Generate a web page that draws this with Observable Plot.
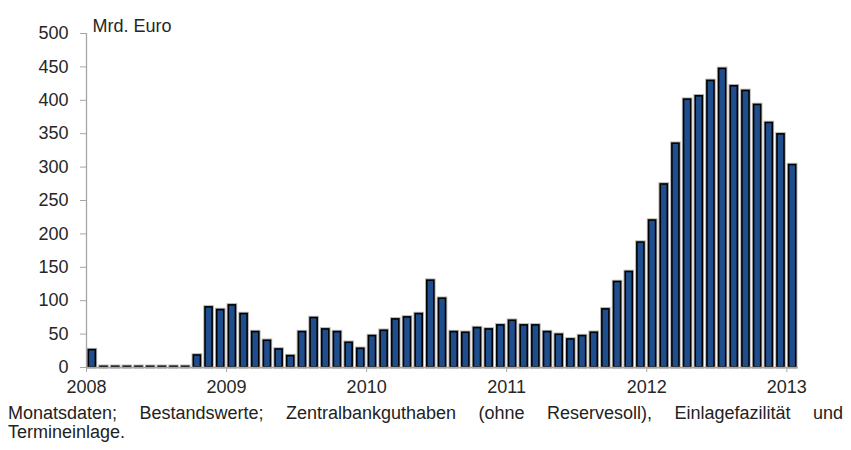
<!DOCTYPE html>
<html>
<head>
<meta charset="utf-8">
<script src="https://cdn.jsdelivr.net/npm/d3@7"></script>
<script src="https://cdn.jsdelivr.net/npm/@observablehq/plot@0.6"></script>
<style>
  html, body { margin: 0; padding: 0; background: #fff; }
  body { width: 851px; font-family: "Liberation Sans", Arial, sans-serif; color: #222; }
  #chart svg { display: block; }
  .cap { padding: 0 8px; width: 835px; font-size: 18px; line-height: 19px; }
  .cap1 { text-align: justify; text-align-last: justify; margin-top: 4px; }
</style>
</head>
<body>
<div id="chart"></div>
<div class="cap cap1">Monatsdaten; Bestandswerte; Zentralbankguthaben (ohne Reservesoll), Einlagefazilität und</div>
<div class="cap">Termineinlage.</div>
<script>
// Monthly values, Jan 2008 – Jan 2013 (Mrd. Euro)
const values2008 = [26, 1, 1, 1, 1, 1, 1, 1, 1, 18, 90, 86];
const values2009 = [93, 80, 53, 40, 27, 17, 53, 74, 57, 53, 37, 28];
const values2010 = [47, 55, 72, 75, 80, 130, 103, 53, 52, 59, 57, 63];
const values2011 = [70, 63, 63, 53, 49, 42, 47, 52, 87, 128, 143, 187];
const values2012 = [220, 274, 335, 401, 406, 429, 447, 421, 414, 393, 366, 349];
const values2013 = [303];
const yearLabels = ["2008", "2009", "2010", "2011", "2012", "2013"];
const yTicks = [0, 50, 100, 150, 200, 250, 300, 350, 400, 450, 500];
const unitLabel = "Mrd. Euro";

const values = [...values2008, ...values2009, ...values2010, ...values2011, ...values2012, ...values2013];
const data = values.map((v, i) => ({i, v}));
const yearTicks = yearLabels.map((_, k) => k * 12);

const blue = "#1f4e8e";
const axisGray = "#a6a6a6";
const textColor = "#262626";

const plot = Plot.plot({
  width: 851,
  height: 400,
  marginLeft: 86,
  marginRight: 53,
  marginTop: 33,
  marginBottom: 33,
  style: {fontFamily: "Liberation Sans, Arial, sans-serif", fontSize: "18px", color: textColor, overflow: "visible"},
  x: {type: "linear", domain: [0, values.length]},
  y: {domain: [0, 500]},
  marks: [
    Plot.rectY(data, {x1: "i", x2: d => d.i + 1, y: "v", insetLeft: 2.3, insetRight: 2.3, fill: "none", stroke: "#b0b0b0", strokeWidth: 3.5}),
    Plot.rectY(data, {x1: "i", x2: d => d.i + 1, y: "v", insetLeft: 2.3, insetRight: 2.3, fill: blue, stroke: "#000", strokeWidth: 1.6}),
    Plot.ruleX([0], {stroke: axisGray, strokeWidth: 1.3}),
    Plot.ruleY([0], {stroke: axisGray, strokeWidth: 1.3}),
    Plot.axisY({ticks: yTicks, tickSize: 6, tickPadding: 12, stroke: axisGray, fill: textColor, label: null, fontSize: 18}),
    Plot.axisX({ticks: yearTicks, tickFormat: t => yearLabels[t / 12], tickSize: 5, tickPadding: 8, stroke: axisGray, fill: textColor, label: null, fontSize: 18}),
    Plot.text([unitLabel], {frameAnchor: "top-left", dx: 6, dy: -14, textAnchor: "start", fill: textColor, fontSize: 18})
  ]
});
document.getElementById("chart").appendChild(plot);
</script>
</body>
</html>
